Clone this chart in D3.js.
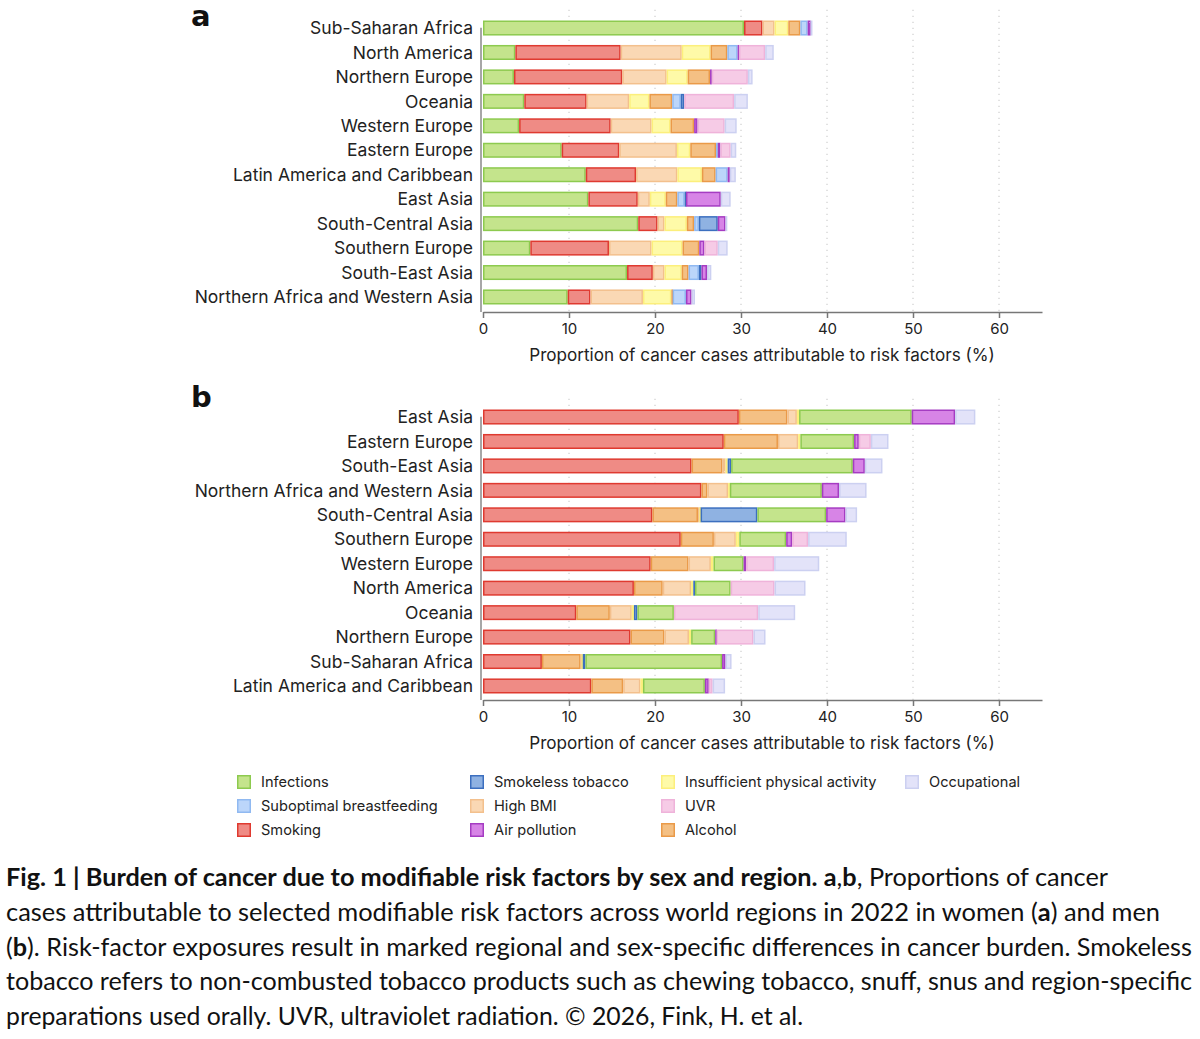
<!DOCTYPE html>
<html>
<head>
<meta charset="utf-8">
<script src="https://cdn.jsdelivr.net/npm/d3@7"></script>
<style>
  body { margin: 0; background: #fff; }
  svg { display: block; }
</style>
</head>
<body>
<div id="chart"></div>
<script>
// risk factors (keys + legend names)
var factorKeys = ["infections", "breastfeeding", "smoking", "smokeless", "bmi", "air", "activity", "uvr", "alcohol", "occupational"];
var factorNames = ["Infections", "Suboptimal breastfeeding", "Smoking", "Smokeless tobacco", "High BMI", "Air pollution",
  "Insufficient physical activity", "UVR", "Alcohol", "Occupational"];

// stacking order of each panel
var orderA = ["infections", "smoking", "bmi", "activity", "alcohol", "breastfeeding", "smokeless", "air", "uvr", "occupational"];
var orderB = ["smoking", "alcohol", "bmi", "activity", "smokeless", "infections", "air", "uvr", "occupational"];

// panel a : women
var regionsA = ["Sub-Saharan Africa", "North America", "Northern Europe", "Oceania", "Western Europe", "Eastern Europe",
  "Latin America and Caribbean", "East Asia", "South-Central Asia", "Southern Europe", "South-East Asia", "Northern Africa and Western Asia"];
var infectionsA    = [30.35, 3.76, 3.6, 4.8, 4.2, 9.15, 11.95, 12.25, 18.05, 5.5, 16.75, 9.85];
var smokingA       = [2.15, 12.25, 12.6, 7.25, 10.65, 6.7, 5.85, 5.75, 2.25, 9.15, 3.0, 2.65];
var bmiA           = [1.4, 7.1, 5.15, 4.95, 4.75, 6.7, 4.8, 1.4, 0.8, 4.95, 1.35, 6.1];
var activityA      = [1.6, 3.35, 2.45, 2.35, 2.2, 1.55, 2.85, 1.85, 2.6, 3.6, 2.0, 3.3];
var alcoholA       = [1.4, 1.95, 2.6, 2.65, 2.75, 3.0, 1.6, 1.35, 0.85, 1.95, 0.8, 0.15];
var breastfeedingA = [0.85, 1.2, 0, 1.0, 0, 0.2, 1.4, 0.85, 0.55, 0, 1.2, 1.55];
var smokelessA     = [0, 0, 0, 0.4, 0, 0, 0, 0.15, 2.2, 0, 0.3, 0];
var airA           = [0.35, 0.15, 0.2, 0, 0.4, 0.3, 0.25, 4.05, 0.9, 0.6, 0.65, 0.65];
var uvrA           = [0, 3.05, 4.2, 5.8, 3.15, 1.2, 0, 0, 0, 1.55, 0, 0];
var occupationalA  = [0.15, 1.0, 0.55, 1.6, 1.4, 0.65, 0.7, 1.15, 0.2, 1.15, 0.5, 0.4];

// panel b : men
var regionsB = ["East Asia", "Eastern Europe", "South-East Asia", "Northern Africa and Western Asia", "South-Central Asia",
  "Southern Europe", "Western Europe", "North America", "Oceania", "Northern Europe", "Sub-Saharan Africa", "Latin America and Caribbean"];
var smokingB       = [29.75, 28.0, 24.25, 25.4, 19.7, 23.0, 19.5, 17.55, 10.85, 17.15, 6.85, 12.6];
var alcoholB       = [5.65, 6.3, 3.6, 0.7, 5.3, 3.85, 4.4, 3.35, 3.9, 3.95, 4.5, 3.7];
var bmiB           = [1.1, 2.35, 0.35, 2.4, 0.15, 2.55, 2.6, 3.3, 2.55, 2.85, 0.1, 2.0];
var activityB      = [0.25, 0.25, 0.25, 0.2, 0.15, 0.4, 0.3, 0.25, 0.25, 0.25, 0.15, 0.3];
var smokelessB     = [0, 0, 0.4, 0, 6.6, 0, 0, 0.2, 0.4, 0, 0.3, 0];
var infectionsB    = [13.1, 6.25, 14.15, 10.7, 8.0, 5.45, 3.5, 4.15, 4.25, 2.8, 15.9, 7.2];
var airB           = [5.05, 0.55, 1.4, 2.0, 2.25, 0.7, 0.3, 0, 0, 0.15, 0.4, 0.45];
var uvrB           = [0, 1.4, 0, 0, 0, 1.85, 3.25, 5.1, 9.8, 4.3, 0, 0.45];
var occupationalB  = [2.35, 2.05, 2.05, 3.2, 1.35, 4.5, 5.25, 3.6, 4.3, 1.4, 0.7, 1.45];

var xTicks = [0, 10, 20, 30, 40, 50, 60];
var axisTitle = "Proportion of cancer cases attributable to risk factors (%)";

var captionLines = [
  [["Fig. 1 | Burden of cancer due to modifiable risk factors by sex and region. ", true], ["a", true], [",", false], ["b", true], [", Proportions of cancer", false]],
  [["cases attributable to selected modifiable risk factors across world regions in 2022 in women (", false], ["a", true], [") and men", false]],
  [["(", false], ["b", true], ["). Risk-factor exposures result in marked regional and sex-specific differences in cancer burden. Smokeless", false]],
  [["tobacco refers to non-combusted tobacco products such as chewing tobacco, snuff, snus and region-specific", false]],
  [["preparations used orally. UVR, ultraviolet radiation. © 2026, Fink, H. et al.", false]]
];
var captionWidths = [1102, 1154, 1186, 1186, 797];

var fills = {
  infections: "#c4e48c", breastfeeding: "#bcd6fa", smoking: "#ef8b85", smokeless: "#8fb2e2", bmi: "#fad8b4",
  air: "#d784e6", activity: "#fefaa8", uvr: "#f6cbe6", alcohol: "#f4c084", occupational: "#e3e3f9"
};
var strokes = {
  infections: "#8dca4f", breastfeeding: "#90b9f1", smoking: "#df3a30", smokeless: "#3c6fbf", bmi: "#f3c08d",
  air: "#a53cc2", activity: "#fcef7c", uvr: "#efb3da", alcohol: "#ea9a48", occupational: "#ccd0f1"
};

var W = 1200, H = 1039;
var font = "Inter, Roboto, 'Noto Sans', sans-serif";

var svg = d3.select("#chart").append("svg")
  .attr("width", W).attr("height", H);

var x = d3.scaleLinear().domain([0, 65]).range([483, 1042]);

function makeRows(regions, series) {
  return regions.map(function(r, i) {
    var row = { region: r };
    for (var k in series) row[k] = series[k][i];
    return row;
  });
}

var rowsA = makeRows(regionsA, {
  infections: infectionsA, smoking: smokingA, bmi: bmiA, activity: activityA, alcohol: alcoholA,
  breastfeeding: breastfeedingA, smokeless: smokelessA, air: airA, uvr: uvrA, occupational: occupationalA
});
var rowsB = makeRows(regionsB, {
  smoking: smokingB, alcohol: alcoholB, bmi: bmiB, activity: activityB, smokeless: smokelessB,
  infections: infectionsB, air: airB, uvr: uvrB, occupational: occupationalB
});

function drawPanel(rows, order, top, bottom, axisY, letter, letterY) {
  var y = d3.scaleBand()
    .domain(rows.map(function(d) { return d.region; }))
    .range([top, bottom])
    .paddingInner(0.385)
    .paddingOuter(0.1925);

  var g = svg.append("g");

  // dotted grid
  g.selectAll("line.grid")
    .data(xTicks.slice(1))
    .enter().append("line")
    .attr("class", "grid")
    .attr("x1", function(d) { return x(d); })
    .attr("x2", function(d) { return x(d); })
    .attr("y1", top - 6)
    .attr("y2", axisY)
    .attr("stroke", "#b5b5b5")
    .attr("stroke-width", 1)
    .attr("stroke-dasharray", "1,5");

  var stack = d3.stack().keys(order);
  var series = stack(rows);

  var layer = g.selectAll("g.layer")
    .data(series)
    .enter().append("g")
    .attr("class", "layer")
    .attr("fill", function(d) { return fills[d.key]; })
    .attr("stroke", function(d) { return strokes[d.key]; });

  layer.selectAll("rect")
    .data(function(d) { return d.filter(function(s) { return s[1] - s[0] > 0; }); })
    .enter().append("rect")
    .attr("x", function(d) { return x(d[0]) + 0.75; })
    .attr("y", function(d) { return y(d.data.region) + 0.75; })
    .attr("width", function(d) { return Math.max(0.3, x(d[1]) - x(d[0]) - 1.5); })
    .attr("height", y.bandwidth() - 1.5)
    .attr("stroke-width", 1.5);

  // left axis line
  g.append("line")
    .attr("x1", 481).attr("x2", 481)
    .attr("y1", top + 12).attr("y2", axisY)
    .attr("stroke", "#8a8a8a").attr("stroke-width", 1.5);

  // region labels
  g.selectAll("text.region")
    .data(rows)
    .enter().append("text")
    .attr("class", "region")
    .attr("x", 473)
    .attr("y", function(d) { return y(d.region) + y.bandwidth() / 2; })
    .attr("dy", "0.35em")
    .attr("text-anchor", "end")
    .attr("font-family", font)
    .attr("font-size", 17.5)
    .attr("fill", "#222")
    .text(function(d) { return d.region; });

  // bottom axis
  var ax = g.append("g")
    .attr("transform", "translate(0," + axisY + ")")
    .call(d3.axisBottom(x).tickValues(xTicks).tickSize(6).tickPadding(5).tickSizeOuter(0));
  ax.select(".domain").attr("stroke", "#777").attr("stroke-width", 1.5);
  ax.selectAll(".tick line").attr("stroke", "#777").attr("stroke-width", 1.5);
  ax.selectAll(".tick text").attr("font-family", font).attr("font-size", 15).attr("fill", "#222");

  g.append("text")
    .attr("x", 762)
    .attr("y", axisY + 49)
    .attr("text-anchor", "middle")
    .attr("font-family", font)
    .attr("font-size", 17.1)
    .attr("fill", "#222")
    .text(axisTitle);

  g.append("text")
    .attr("x", 191)
    .attr("y", letterY)
    .attr("font-family", "'DejaVu Sans', sans-serif")
    .attr("font-weight", "bold")
    .attr("font-size", 29)
    .attr("fill", "#111")
    .text(letter);
}

drawPanel(rowsA, orderA, 15.8, 309.2, 312, "a", 26);
drawPanel(rowsB, orderB, 404.8, 698.2, 700, "b", 407);

// legend (3 rows per column)
var legendCols = [237, 470, 661, 905];
var legendRows = [782, 806, 830];
var legend = svg.append("g").selectAll("g")
  .data(factorKeys)
  .enter().append("g")
  .attr("transform", function(d, i) {
    return "translate(" + legendCols[Math.floor(i / 3)] + "," + legendRows[i % 3] + ")";
  });
legend.append("rect")
  .attr("x", 0.75).attr("y", -6.25)
  .attr("width", 12.5).attr("height", 12.5)
  .attr("fill", function(d) { return fills[d]; })
  .attr("stroke", function(d) { return strokes[d]; })
  .attr("stroke-width", 1.5);
legend.append("text")
  .attr("x", 24)
  .attr("dy", "0.35em")
  .attr("font-family", font)
  .attr("font-size", 14.6)
  .attr("fill", "#222")
  .text(function(d, i) { return factorNames[i]; });

// caption
var cap = svg.append("g").selectAll("text")
  .data(captionLines)
  .enter().append("text")
  .attr("x", 6)
  .attr("y", function(d, i) { return 886 + i * 34.8; })
  .attr("font-family", "Lato, 'Noto Sans', sans-serif")
  .attr("font-size", 25)
  .attr("fill", "#111")
  .attr("textLength", function(d, i) { return captionWidths[i]; })
  .attr("lengthAdjust", "spacingAndGlyphs");
cap.selectAll("tspan")
  .data(function(d) { return d; })
  .enter().append("tspan")
  .attr("font-weight", function(d) { return d[1] ? "bold" : "normal"; })
  .text(function(d) { return d[0]; });
</script>
</body>
</html>
